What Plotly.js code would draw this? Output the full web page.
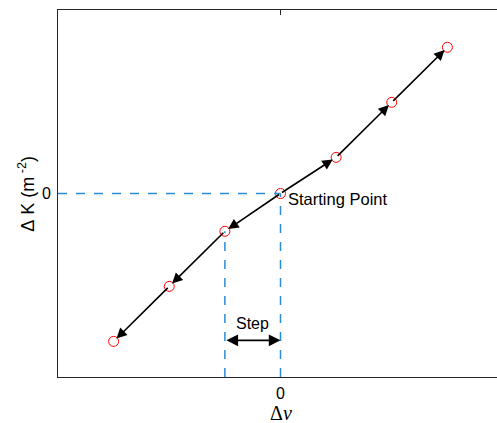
<!DOCTYPE html>
<html>
<head>
<meta charset="utf-8">
<script src="https://cdn.plot.ly/plotly-3.0.1.min.js"></script>
<style>
html,body{margin:0;padding:0;overflow:hidden;background:#fff;}
#plot{width:505px;height:423px;}
</style>
</head>
<body>
<div id="plot"></div>
<script>
// Data
const steps = [-3, -2, -1, 0, 1, 2, 3];
const deltaK = [-2.66, -1.67, -0.68, 0, 0.65, 1.64, 2.63];
const startIndex = 3;
const stepLabel = "Step";
const startLabel = "Starting Point";
const xTitle = "Δ<i>ν</i>";
const yTitle = "Δ\u00A0K\u00A0(m<sup>\u00A0-2</sup>)";
const stepY = -2.64;

const annotations = [];
const arrowStyle = {arrowhead:2, arrowsize:1.3, arrowwidth:1.6, arrowcolor:'#000', standoff:4};
// arrows from the starting point outward
for (let i = startIndex; i < steps.length - 1; i++) {
  annotations.push(Object.assign({x: steps[i+1], y: deltaK[i+1], ax: steps[i], ay: deltaK[i],
    xref:'x', yref:'y', axref:'x', ayref:'y', text:'', showarrow:true}, arrowStyle));
}
for (let i = startIndex; i > 0; i--) {
  annotations.push(Object.assign({x: steps[i-1], y: deltaK[i-1], ax: steps[i], ay: deltaK[i],
    xref:'x', yref:'y', axref:'x', ayref:'y', text:'', showarrow:true}, arrowStyle));
}
// Step double arrow
annotations.push({x: steps[startIndex], y: stepY, ax: steps[startIndex-1], ay: stepY,
  xref:'x', yref:'y', axref:'x', ayref:'y', text:'', showarrow:true,
  arrowhead:2, arrowside:'end+start', arrowsize:1.3, arrowwidth:1.8, arrowcolor:'#000', standoff:0, startstandoff:0});
annotations.push({x: (steps[startIndex]+steps[startIndex-1])/2, y: stepY + 0.31, text: stepLabel,
  xref:'x', yref:'y', showarrow:false, font:{family:'Liberation Sans, Arial', size:16, color:'#000'}});
annotations.push({x: steps[startIndex] + 0.1, y: deltaK[startIndex] - 0.09, text: startLabel,
  xref:'x', yref:'y', showarrow:false, xanchor:'left', yanchor:'middle',
  font:{family:'Liberation Sans, Arial', size:16.5, color:'#000'}});
// axis titles
annotations.push({xref:'paper', yref:'paper', x:0.5, y:-0.097, text:xTitle, showarrow:false,
  xanchor:'center', yanchor:'middle',
  font:{family:'Liberation Serif, Times New Roman, serif', size:20, color:'#000'}});
annotations.push({xref:'paper', yref:'paper', x:-0.07, y:0.499, text:yTitle, showarrow:false,
  textangle:-90, xanchor:'center', yanchor:'middle',
  font:{family:'Liberation Sans, Arial', size:18, color:'#000'}});

const blue = '#2b8cd6';
const shapes = [
  {type:'line', xref:'x', yref:'y', x0:-4, x1:steps[startIndex], y0:deltaK[startIndex], y1:deltaK[startIndex],
   line:{color:blue, width:1.5, dash:'dash'}},
  {type:'line', xref:'x', yref:'y', x0:steps[startIndex], x1:steps[startIndex], y0:-3.3, y1:deltaK[startIndex],
   line:{color:blue, width:1.5, dash:'dash'}},
  {type:'line', xref:'x', yref:'y', x0:steps[startIndex-1], x1:steps[startIndex-1], y0:-3.3, y1:deltaK[startIndex-1],
   line:{color:blue, width:1.5, dash:'dash'}}
];

const traces = [
  {x: steps, y: deltaK, mode:'markers', type:'scatter',
   marker:{symbol:'circle-open', size:10, color:'#ff0000', line:{width:1, color:'#ff0000'}},
   hoverinfo:'none', showlegend:false}
];

const layout = {
  width:505, height:423,
  margin:{l:58, r:2, t:10, b:46},
  paper_bgcolor:'#fff', plot_bgcolor:'#fff',
  showlegend:false,
  xaxis:{range:[-4,4], tickvals:[0], ticktext:['0'], ticks:'inside', ticklen:5, tickcolor:'#262626',
    showline:true, linecolor:'#262626', linewidth:1, mirror:'ticks', showgrid:false, zeroline:false,
    ticklabelstandoff:2,
    tickfont:{family:'Liberation Sans, Arial', size:16, color:'#000'}},
  yaxis:{range:[-3.3,3.3], tickvals:[0], ticktext:['0'], ticks:'inside', ticklen:5, tickcolor:'#262626',
    showline:true, linecolor:'#262626', linewidth:1, mirror:'ticks', showgrid:false, zeroline:false,
    ticklabelstandoff:3,
    tickfont:{family:'Liberation Sans, Arial', size:16, color:'#000'}},
  annotations: annotations,
  shapes: shapes
};

Plotly.newPlot('plot', traces, layout, {staticPlot:true, displayModeBar:false});
</script>
</body>
</html>
